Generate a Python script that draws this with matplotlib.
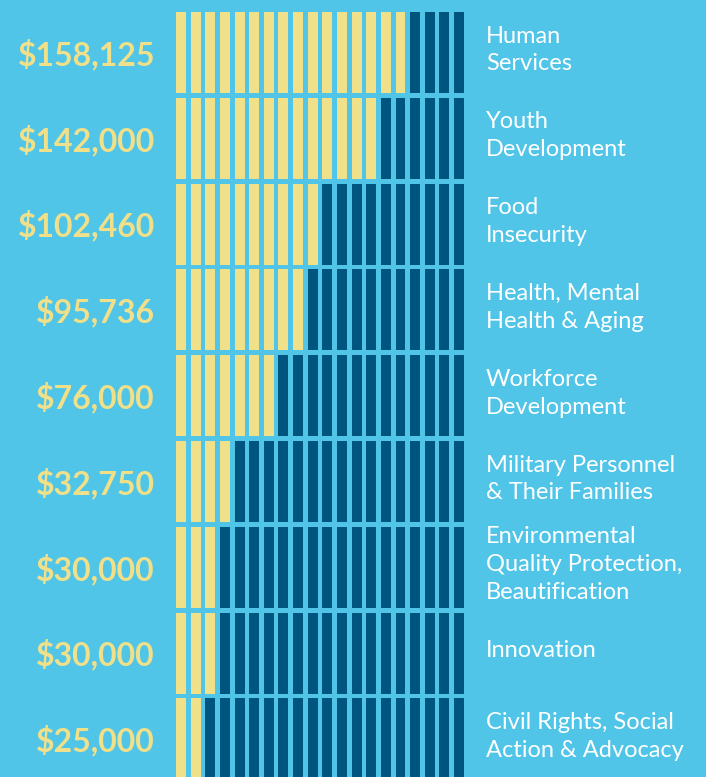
import matplotlib.pyplot as plt
import numpy as np

# amounts granted per focus area (top to bottom)
amounts = ['$158,125', '$142,000', '$102,460', '$95,736', '$76,000',
           '$32,750', '$30,000', '$30,000', '$25,000']
areas = ['Human\nServices', 'Youth\nDevelopment', 'Food\nInsecurity',
         'Health, Mental\nHealth & Aging', 'Workforce\nDevelopment',
         'Military Personnel\n& Their Families',
         'Environmental\nQuality Protection,\nBeautification',
         'Innovation', 'Civil Rights, Social\nAction & Advocacy']
# filled (yellow) units out of 20 in each row
filled = [16, 14, 10, 9, 7, 4, 3, 3, 2]
n_units = 20

bg = '#50c5e8'
yellow = '#f1e08a'
navy = '#00557f'

fig = plt.figure(figsize=(7.06, 7.77), dpi=100, facecolor=bg)
ax = fig.add_axes([0, 0, 1, 1])
ax.set_facecolor(bg)

cols = np.arange(n_units)
for row, k in enumerate(filled):
    colors = [yellow if c < k else navy for c in cols]
    ax.bar(cols, 0.944, bottom=row - 0.472, width=0.68, color=colors,
           align='center', linewidth=0)
    ax.text(-1.78, row + 0.02, amounts[row], ha='right', va='center',
            color=yellow, fontsize=23, fontweight='bold', family='Lato')
    ax.text(20.85, row - 0.03, areas[row], ha='left', va='center',
            color='white', fontsize=17, family='Lato', linespacing=1.4)

ax.set_xlim(-12.37, 35.88)
ax.set_ylim(8.444, -0.612)
ax.axis('off')

fig.savefig('out.png', dpi=100, facecolor=bg)
